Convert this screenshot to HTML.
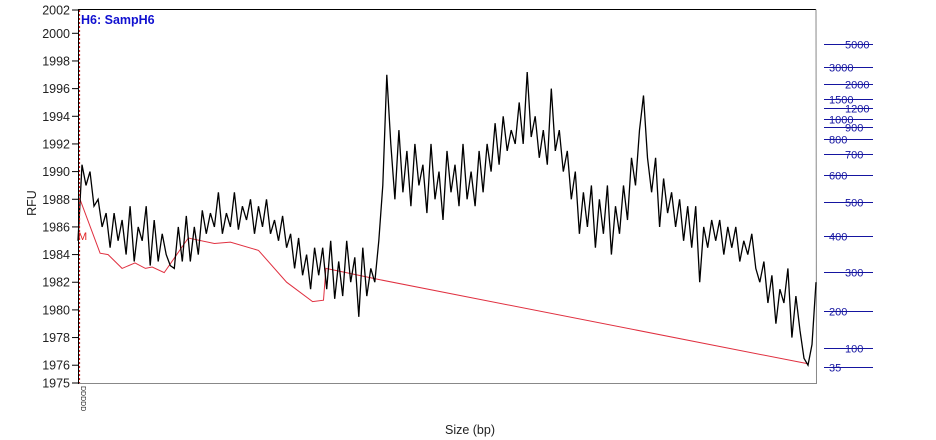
<!DOCTYPE html>
<html><head><meta charset="utf-8"><style>
body{margin:0;background:#fff;}
svg{display:block;font-family:"Liberation Sans",sans-serif;}
</style></head><body>
<svg id="chart" width="936" height="440" viewBox="0 0 936 440" xmlns="http://www.w3.org/2000/svg">
<rect x="0" y="0" width="936" height="440" fill="#fff"/>
<g id="frame"></g>
<g id="lines"></g>
<g id="axes"></g>
<g id="right-axis"></g>
</svg>
<script>
const leftTicks=[2000,1998,1996,1994,1992,1990,1988,1986,1984,1982,1980,1978,1976];
const sizeLabels=["5000","3000","2000","1500","1200","1000","900","800","700","600","500","400","300","200","100","35"];
const sizeRowY=[44,67,84,99,108,119,127,139,154,175,202,236,272,311,348,367];
const rfu=[
1985,1990.5,1989,1990,1987.5,1988,1986,1987,1984.5,1987,
1985,1986.5,1984,1987.5,1983.5,1986,1985,1987.5,1983.2,1986.5,
1983.5,1985.5,1984,1983.2,1983,1986,1983.5,1986.8,1983.5,1986,
1984,1987.2,1985.5,1987,1986,1988.5,1985.5,1987,1986,1988.5,
1985.8,1987.5,1986.5,1988,1985.5,1987.5,1986,1988,1985.5,1986.5,
1985,1986.8,1984.5,1985.5,1983,1985.2,1982.5,1984,1981.5,1984.5,
1982.5,1984.5,1981.5,1985,1980.8,1983.5,1981,1985,1982,1983.8,
1979.5,1984.5,1981,1983,1982,1985,1989,1997,1992,1988,
1993,1988.5,1991.5,1987.5,1992,1989,1990.5,1987,1992,1988,
1990,1986.5,1991.5,1988.5,1990.5,1987.5,1992,1988,1990,1987.5,
1991.5,1988.5,1992,1990,1993.5,1990.5,1994,1991.5,1993,1992,
1995,1992,1997.2,1992.5,1994,1991,1993,1990.5,1996,1991.5,
1993,1990,1991.5,1988,1990,1985.5,1988.5,1986,1989,1984.5,
1988,1985.5,1989,1984,1987.5,1985.5,1989,1986.5,1991,1989,
1993,1995.5,1991,1988.5,1991,1986,1989.5,1987,1988.5,1986,
1988,1985,1987.5,1984.5,1987.5,1982,1986,1984.5,1986.5,1985,
1986.5,1984,1986,1984.5,1986,1983.5,1985,1984,1985.5,1983,
1982,1983.5,1980.5,1982.5,1979,1981.5,1980.5,1983,1978,1981,
1978.5,1976.5,1976,1977.5,1982];
const baseIdx=[0.5,5.5,7.5,11,14.2,16.8,18.5,21.5,27.5,34,38,45,52,58.5,61.2,61.8,75,182];
const baseVal=[1988,1984.1,1984,1983,1983.4,1983,1983.1,1982.7,1985.2,1984.8,1984.9,1984.3,1982,1980.6,1980.7,1983,1982.2,1976.1];

const X0=78,X1=816;
const xs=i=>X0+i*(X1-X0)/(rfu.length-1);
const ys=v=>33.3+(2000-v)*13.83;
const NS="http://www.w3.org/2000/svg";
function mk(tag,attrs,parent,text){const e=document.createElementNS(NS,tag);for(const k in attrs)e.setAttribute(k,attrs[k]);if(text!==undefined)e.textContent=text;parent.appendChild(e);return e;}
const frame=document.getElementById('frame'),lines=document.getElementById('lines'),axes=document.getElementById('axes'),ra=document.getElementById('right-axis');

let f=mk('line',{x1:78,y1:9.5,x2:816,y2:9.5,stroke:'#000','stroke-width':1},frame);


f=mk('polyline',{points:'816,9.5 816.5,383.5 78,383.5',fill:'none',stroke:'#888','stroke-width':1},frame);



let bp=baseIdx.map((i,k)=>xs(i).toFixed(1)+','+ys(baseVal[k]).toFixed(1)).join(' ');
let bl=mk('polyline',{points:bp,fill:'none',stroke:'#e03040','stroke-width':1},lines);


let pts=rfu.map((v,i)=>xs(i).toFixed(1)+','+ys(v).toFixed(1)).join(' ');
let tr=mk('polyline',{points:pts,fill:'none',stroke:'#000','stroke-width':1.3},lines);



let vd=mk('line',{x1:79.5,y1:10,x2:79.5,y2:383,stroke:'#d02020','stroke-width':1.2,'stroke-dasharray':'2,2'},lines);



let ax=mk('line',{x1:78.5,y1:9,x2:78.5,y2:384,stroke:'#000','stroke-width':1},axes);


function ytick(v,y){
  let t=mk('line',{x1:72,y1:y,x2:78,y2:y,stroke:'#000'},axes);
  
  
  let l=mk('text',{x:70,y:y+4.5,'text-anchor':'end','font-size':12.5,fill:'#222'},axes,String(v));
  
  
}
ytick(2002,10);
leftTicks.forEach(v=>ytick(v,ys(v)));
ytick(1975,383);

let yt=mk('text',{x:36,y:203,'text-anchor':'middle','font-size':12.5,fill:'#222',transform:'rotate(-90 36 203)'},axes,'RFU');


let xt=mk('text',{x:470,y:434,'text-anchor':'middle','font-size':12.5,fill:'#222'},axes,'Size (bp)');


let tt=mk('text',{x:81,y:24,'font-size':12.5,'font-weight':'bold',fill:'#1010d0'},axes,'H6: SampH6');


let mm=mk('text',{x:78,y:240,'font-size':11,fill:'#e02020'},axes,'M');


let xl=mk('text',{x:81,y:386,'font-size':7,fill:'#222',transform:'rotate(90 81 386)'},axes,'DDDDD');



sizeLabels.forEach((s,k)=>{
  const y=sizeRowY[k];
  let ln=mk('line',{x1:824,y1:y+0.5,x2:873,y2:y+0.5,stroke:'#1515a0','stroke-width':1},ra);
  
  
  const left=['3000','1500','1000','800','600','400','200','35'].includes(s);
  let t=mk('text',{x:left?829:845,y:y+4.5,'font-size':11,fill:'#1515a0'},ra,s);
  
  
});
</script>
</body></html>
